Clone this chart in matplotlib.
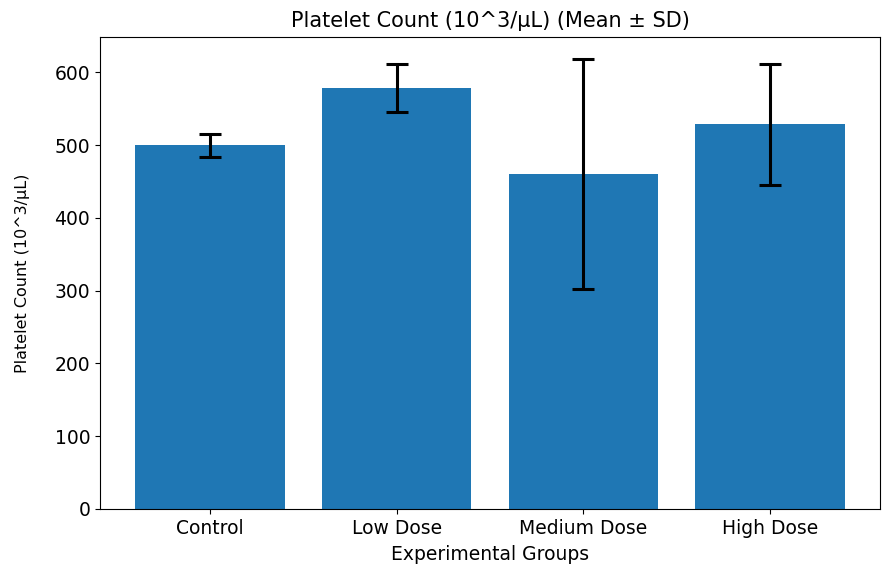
import matplotlib
matplotlib.use("Agg")
import matplotlib.pyplot as plt

groups = ["Control", "Low Dose", "Medium Dose", "High Dose"]
means = [500, 578, 460, 529]
sds = [16, 33, 158, 83]

fig = plt.figure(figsize=(8.89, 5.68), dpi=100)
ax = fig.add_axes([0.1125, 0.104, 0.8775, 0.831])
ax.bar(groups, means, yerr=sds, color="#1f77b4", width=0.8,
       capsize=8, error_kw=dict(elinewidth=2.2, capthick=2.2, ecolor="black"))
ax.set_title("Platelet Count (10^3/μL) (Mean ± SD)", fontsize=15, pad=7)
ax.set_xlabel("Experimental Groups", fontsize=13.5, labelpad=5)
ax.set_ylabel("Platelet Count (10^3/μL)", fontsize=11.5)
ax.yaxis.set_label_coords(-0.09, 0.5)
ax.tick_params(axis="both", labelsize=13.5)
fig.savefig("out.png", dpi=100)
